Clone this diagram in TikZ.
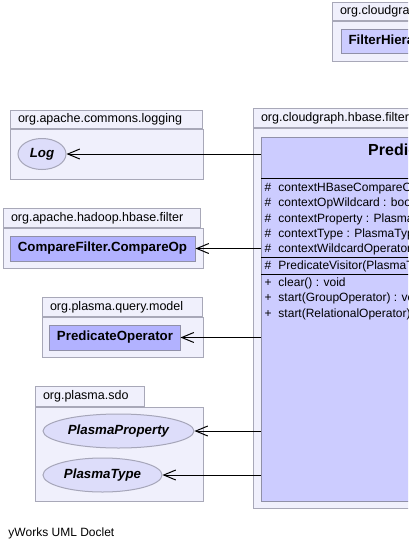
\documentclass[tikz,border=0pt]{standalone}
\usepackage{fontspec}
\setmainfont{Liberation Sans}
\usepackage{tikz}
\usetikzlibrary{arrows.meta,shapes.geometric}

\definecolor{pkgfill}{RGB}{240,240,252}
\definecolor{pkgline}{RGB}{168,168,184}
\definecolor{clsfill}{RGB}{204,204,255}
\definecolor{clsline}{RGB}{144,144,168}
\definecolor{enumfill}{RGB}{178,178,255}
\definecolor{ifcfill}{RGB}{221,221,250}

\newcommand\pkgfont{\fontsize{12.5}{14}\selectfont}
\newcommand\memfont{\fontsize{12}{14}\selectfont}
\newcommand\clsfont{\fontsize{13.3}{15}\selectfont\bfseries}
\newcommand\vis[1]{\makebox[14pt][l]{#1}}

\begin{document}
\begin{tikzpicture}[x=1pt,y=-1pt,line width=1pt,
        pkgbody/.style={draw=pkgline,fill=pkgfill,anchor=north west,inner sep=0pt},
        pkgtab/.style={draw=pkgline,fill=pkgfill,anchor=south west,inner xsep=7.5pt,
                       inner ysep=0pt,minimum height=19pt,align=left,font=\pkgfont},
        clsbox/.style={draw=clsline,fill=clsfill,inner xsep=7pt,minimum height=24pt,font=\clsfont},
        enumbox/.style={clsbox,fill=enumfill},
        ifc/.style={ellipse,draw=clsline!80,fill=ifcfill,inner sep=0pt,font=\clsfont\itshape},
        member/.style={anchor=base west,inner sep=0pt,font=\memfont},
        dep/.style={-{Straight Barb[length=12pt,width=10pt,line width=1pt]}}]
        \useasboundingbox (0,0) rectangle (408,546);
        \clip (0,0) rectangle (408,546);

        % packages
        \node[pkgbody,minimum width=100pt,minimum height=40pt] (toppkg) at (332,21) {};
        \node[pkgtab,text width=105pt,minimum height=18pt] (toptab) at (toppkg.north west) {org.cloudgraph.common.filter};
        \node[pkgbody,minimum width=352pt,minimum height=380pt] (mainpkg) at (253,128) {};
        \node[pkgtab,text width=147pt] (maintab) at (mainpkg.north west) {org.cloudgraph.hbase.filter};
        \node[pkgbody,minimum width=193pt,minimum height=50pt] (logpkg) at (10,129) {};
        \node[pkgtab,text width=177pt,minimum height=18pt] (logtab) at (logpkg.north west) {org.apache.commons.logging};
        \node[pkgbody,minimum width=200pt,minimum height=40pt] (hadooppkg) at (3,228) {};
        \node[pkgtab,text width=182pt] (hadooptab) at (hadooppkg.north west) {org.apache.hadoop.hbase.filter};
        \node[pkgbody,minimum width=161pt,minimum height=40pt] (querypkg) at (42,317) {};
        \node[pkgtab,text width=145pt] (querytab) at (querypkg.north west) {org.plasma.query.model};
        \node[pkgbody,minimum width=168pt,minimum height=94pt] (sdopkg) at (35,407) {};
        \node[pkgtab,text width=94pt,minimum height=20pt] (sdotab) at (sdopkg.north west) {org.plasma.sdo};

        % classes
        \node[clsbox,anchor=west] (assembler) at (341,41.5) {FilterHierarchyAssembler};
        \node[clsbox,anchor=north west,minimum width=336pt,minimum height=364pt] (visitor) at (261,137) {};
        \node[inner sep=0pt,font=\fontsize{16}{18}\selectfont\bfseries] (vname) at (429,149.5) {PredicateVisitor};
        \draw ([yshift=-41pt]visitor.north west) -- ([yshift=-41pt]visitor.north east);
        \draw ([yshift=-120pt]visitor.north west) -- ([yshift=-120pt]visitor.north east);
        \draw ([yshift=-137pt]visitor.north west) -- ([yshift=-137pt]visitor.north east);
        \node[member] (attr1) at (264,191.5) {\vis{\#}contextHBaseCompareOp : CompareFilter.CompareOp};
        \node[member] (attr2) at (264,206.8) {\vis{\#}contextOpWildcard : boolean};
        \node[member] (attr3) at (264,222.1) {\vis{\#}contextProperty : PlasmaProperty};
        \node[member] (attr4) at (264,237.4) {\vis{\#}contextType : PlasmaType};
        \node[member] (attr5) at (264,252.7) {\vis{\#}contextWildcardOperator : WildcardOperator};
        \node[member] (ctor) at (264,269.5) {\vis{\#}PredicateVisitor(PlasmaType)};
        \node[member] (meth1) at (264,286.5) {\vis{+}clear() : void};
        \node[member] (meth2) at (264,301.8) {\vis{+}start(GroupOperator) : void};
        \node[member] (meth3) at (264,317.1) {\vis{+}start(RelationalOperator) : void};

        \node[ifc,minimum width=48pt,minimum height=31pt] (log) at (42,154) {Log};
        \node[enumbox,minimum width=185pt,minimum height=25pt] (compareop) at (102.5,248.5) {CompareFilter.CompareOp};
        \node[enumbox,minimum width=130pt,minimum height=25pt] (predop) at (115,337.5) {PredicateOperator};
        \node[ifc,minimum width=151pt,minimum height=34pt] (plasmaprop) at (118.5,431) {PlasmaProperty};
        \node[ifc,minimum width=119pt,minimum height=34pt] (plasmatype) at (102.5,475) {PlasmaType};

        \path[dep]
        (log -| visitor.west) edge (log)
        (compareop -| visitor.west) edge (compareop)
        (predop -| visitor.west) edge (predop)
        (plasmaprop -| visitor.west) edge (plasmaprop)
        (plasmatype -| visitor.west) edge (plasmatype)
        ;

        \node[anchor=base west,inner sep=0pt,font=\fontsize{12}{14}\selectfont] (doclet) at (8,536) {yWorks UML Doclet};
\end{tikzpicture}
\end{document}
